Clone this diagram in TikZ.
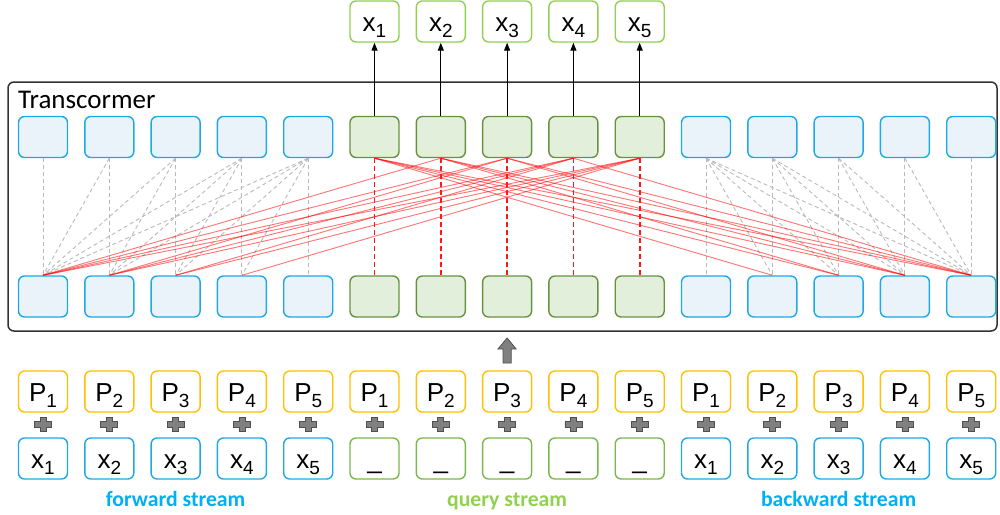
\documentclass[tikz,border=0pt]{standalone}
\usepackage{fontspec}
\setmainfont{Liberation Sans}
\newfontfamily\calib{Carlito}
\usetikzlibrary{arrows.meta}
\definecolor{hidfill}{RGB}{235,243,250}
\definecolor{hidline}{RGB}{28,169,230}
\definecolor{qfill}{RGB}{226,239,218}
\definecolor{qline}{RGB}{104,146,66}
\definecolor{outgreen}{RGB}{146,208,80}
\definecolor{pline}{RGB}{255,192,0}
\definecolor{qinline}{RGB}{122,184,78}
\definecolor{fwdtxt}{RGB}{0,176,240}
\definecolor{qtxt}{RGB}{146,208,80}
\definecolor{dgray}{RGB}{185,185,185}
\definecolor{plusfill}{RGB}{128,128,128}
\definecolor{plusline}{RGB}{80,80,80}
\definecolor{framecol}{RGB}{50,50,50}
\newcommand\mysub[1]{\raisebox{-6pt}{\fontsize{19}{19}\selectfont #1}}
\begin{document}
\begin{tikzpicture}[x=1pt,y=-1pt,
  box/.style={rounded corners=6pt, minimum width=49pt, minimum height=41pt, inner sep=0pt,
    line width=1.4pt, text height=19pt, text depth=0pt, font=\fontsize{26}{26}\selectfont},
  hid/.style={box, draw=hidline, fill=hidfill},
  qhid/.style={box, draw=qline, fill=qfill},
  outbox/.style={box, draw=outgreen, fill=white},
  pbox/.style={box, draw=pline, fill=white},
  inbox/.style={box, draw=hidline, fill=white},
  qinbox/.style={box, draw=qinline, fill=white},
  graydash/.style={draw=dgray, line width=0.9pt, dash pattern=on 4pt off 3pt},
  redline/.style={draw=red, draw opacity=0.55, line width=0.9pt},
  reddash/.style={draw=red!90!white, line width=1.6pt, dash pattern=on 5pt off 3pt},
  outarrow/.style={draw=black, line width=1.2pt, -{Triangle[length=8pt,width=6pt]}},
  streamlbl/.style={anchor=base, font=\calib\bfseries\fontsize{21.7}{22}\selectfont},
  plussign/.style={fill=plusfill, draw=plusline, line width=0.8pt}
]
\useasboundingbox (0,0) rectangle (1000,514);

% frame
\draw[framecol, line width=1.5pt, rounded corners=6pt] (8,82) rectangle (997,331);
\node[anchor=base west, inner sep=0pt, font=\calib\fontsize{27}{27}\selectfont] (title) at (18,108) {Transcormer};

% hidden rows
\foreach \k in {1,2,3,4,5,11,12,13,14,15}{
  \pgfmathsetmacro\xx{43+66.3*(\k-1)}
  \node[hid] (top\k) at (\xx,137) {};
  \node[hid] (bot\k) at (\xx,296.5) {};
}
\foreach \k in {6,...,10}{
  \pgfmathsetmacro\xx{43+66.3*(\k-1)}
  \node[qhid] (top\k) at (\xx,137) {};
  \node[qhid] (bot\k) at (\xx,296.5) {};
}

% outputs
\foreach \i in {1,...,5}{
  \pgfmathsetmacro\xx{43+66.3*(\i+4)}
  \node[outbox] (out\i) at (\xx,21.5) {x\mysub{\i}};
}

% inputs
\foreach \k in {1,...,15}{
  \pgfmathsetmacro\xx{43+66.3*(\k-1)}
  \pgfmathtruncatemacro\s{mod(\k-1,5)+1}
  \node[pbox] (p\k) at (\xx,391.5) {P\mysub{\s}};
  \draw[plussign] (\xx-3,417.5) -- (\xx+3,417.5) -- (\xx+3,421.5) -- (\xx+8.5,421.5) -- (\xx+8.5,427.5)
     -- (\xx+3,427.5) -- (\xx+3,431.5) -- (\xx-3,431.5) -- (\xx-3,427.5) -- (\xx-8.5,427.5)
     -- (\xx-8.5,421.5) -- (\xx-3,421.5) -- cycle;
}
\foreach \k in {1,...,5}{
  \pgfmathsetmacro\xx{43+66.3*(\k-1)}
  \node[inbox] (in\k) at (\xx,458.5) {x\mysub{\k}};
}
\foreach \k in {6,...,10}{
  \pgfmathsetmacro\xx{43+66.3*(\k-1)}
  \node[qinbox] (in\k) at (\xx,458.5) {\_};
}
\foreach \k in {11,...,15}{
  \pgfmathsetmacro\xx{43+66.3*(\k-1)}
  \pgfmathtruncatemacro\s{\k-10}
  \node[inbox] (in\k) at (\xx,458.5) {x\mysub{\s}};
}

% gray dashed attention (forward / backward)
\foreach \i in {1,...,5}{
  \foreach \j in {1,...,\i}{
    \draw[graydash] (top\i.south) -- (bot\j.north);
  }
}
\foreach \i in {11,...,15}{
  \foreach \j in {\i,...,15}{
    \draw[graydash] (top\i.south) -- (bot\j.north);
  }
}

% red query attention
\foreach \i in {2,...,5}{
  \pgfmathtruncatemacro\g{5+\i}
  \pgfmathtruncatemacro\m{\i-1}
  \foreach \j in {1,...,\m}{
    \draw[redline] (top\g.south) -- (bot\j.north);
  }
}
\foreach \i in {1,...,4}{
  \pgfmathtruncatemacro\g{5+\i}
  \pgfmathtruncatemacro\a{11+\i}
  \foreach \j in {\a,...,15}{
    \draw[redline] (top\g.south) -- (bot\j.north);
  }
}
\foreach \k in {6,...,10}{
  \draw[reddash] (top\k.south) -- (bot\k.north);
}

% output arrows
\foreach \i in {1,...,5}{
  \pgfmathtruncatemacro\g{5+\i}
  \draw[outarrow] (top\g.north) -- (out\i.south);
}

% gray block arrow
\draw[fill=plusfill, draw=plusline, line width=0.8pt] (503,363) -- (503,349) -- (498,349) -- (507.1,338)
  -- (516.2,349) -- (511.2,349) -- (511.2,363) -- cycle;

% stream labels
\node[streamlbl, text=fwdtxt] (lf) at (175.6,506) {forward stream};
\node[streamlbl, text=qtxt] (lq) at (507.1,506) {query stream};
\node[streamlbl, text=fwdtxt] (lb) at (838.6,506) {backward stream};
\end{tikzpicture}
\end{document}
